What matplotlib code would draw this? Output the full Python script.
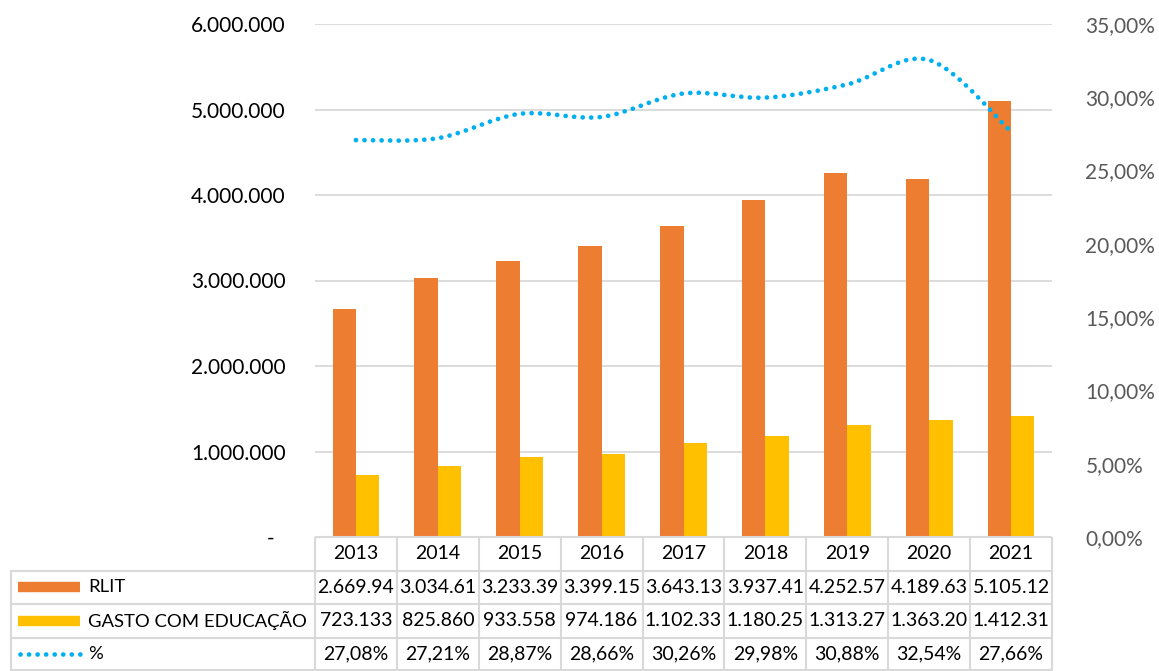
import matplotlib
matplotlib.use("Agg")
import matplotlib.pyplot as plt
from matplotlib.path import Path
from matplotlib.patches import PathPatch
from matplotlib.ticker import FuncFormatter, MultipleLocator
import numpy as np

years = ["2013", "2014", "2015", "2016", "2017", "2018", "2019", "2020", "2021"]
rlit = [2669940, 3034610, 3233390, 3399150, 3643130, 3937410, 4252570, 4189630, 5105120]
gasto = [723133, 825860, 933558, 974186, 1102330, 1180250, 1313270, 1363200, 1412310]
pct = [27.08, 27.21, 28.87, 28.66, 30.26, 29.98, 30.88, 32.54, 27.66]
series_names = ["RLIT", "GASTO COM EDUCAÇÃO", "%"]

ORANGE = "#ED7D31"
YELLOW = "#FFC000"
BLUE = "#00B0F0"
GRID = "#D9D9D9"
FONT = "Lato"

plt.rcParams['font.family'] = [FONT, 'DejaVu Sans']

W, H = 1159, 671
fig = plt.figure(figsize=(W / 100, H / 100), dpi=100)

pl, pr, pt, pb = 315, 1052, 24, 537
ax = fig.add_axes([pl / W, 1 - pb / H, (pr - pl) / W, (pb - pt) / H])
n = len(years)
x = np.arange(n)
bw = 0.285
ax.bar(x - bw / 2, rlit, width=bw, color=ORANGE, zorder=2)
ax.bar(x + bw / 2, gasto, width=bw, color=YELLOW, zorder=2)
ax.set_xlim(-0.5, n - 0.5)
ax.set_ylim(0, 6000000)
ax.yaxis.set_major_locator(MultipleLocator(1000000))


def lfmt(v, p):
    if abs(v) < 1:
        return "-  "
    return f"{int(round(v)):,}".replace(",", ".")


ax.yaxis.set_major_formatter(FuncFormatter(lfmt))
ax.tick_params(axis='y', length=0, pad=21, labelsize=15, labelcolor="#000000")
ax.set_xticks([])
ax.grid(axis='y', color=GRID, lw=1.3, zorder=0)
for s in ax.spines.values():
    s.set_visible(False)

ax2 = ax.twinx()
ax2.set_ylim(0, 35)
ax2.yaxis.set_major_locator(MultipleLocator(5))
ax2.yaxis.set_major_formatter(FuncFormatter(lambda v, p: f"{v:.2f}".replace(".", ",") + "%"))
ax2.tick_params(axis='y', length=0, pad=24, labelsize=15, labelcolor="#595959")
for s in ax2.spines.values():
    s.set_visible(False)

# smoothed line (Catmull-Rom style Bezier through the data points)
pts = np.column_stack([x, pct]).astype(float)
verts = [tuple(pts[0])]
codes = [Path.MOVETO]
for i in range(n - 1):
    p0 = pts[i - 1] if i > 0 else pts[i]
    p1 = pts[i]
    p2 = pts[i + 1]
    p3 = pts[i + 2] if i + 2 < n else pts[i + 1]
    c1 = p1 + (p2 - p0) / 6
    c2 = p2 - (p3 - p1) / 6
    verts += [tuple(c1), tuple(c2), tuple(p2)]
    codes += [Path.CURVE4] * 3
patch = PathPatch(Path(verts, codes), fill=False, edgecolor=BLUE, lw=3.4,
                  linestyle=(0, (0.01, 1.8)), capstyle='round', zorder=3)
ax2.add_patch(patch)

# data table
tl = 10
tb = 671
tax = fig.add_axes([tl / W, 1 - tb / H, (pr - tl) / W, (tb - pb) / H])
upp = n / (pr - pl)
xl = -0.5 - (pl - tl) * upp
tax.set_xlim(xl, n - 0.5)
tax.set_ylim(0, 4)
tax.axis('off')
lkw = dict(color=GRID, lw=1.5, solid_capstyle='butt', clip_on=False)
tax.plot([-0.5, n - 0.5], [4, 4], **lkw)
for yy in [3, 2, 1]:
    tax.plot([xl, n - 0.5], [yy, yy], **lkw)
tax.plot([xl, n - 0.5], [0.02, 0.02], **lkw)
for i in range(n + 1):
    tax.plot([i - 0.5, i - 0.5], [0, 4], **lkw)
tax.plot([xl + 0.01, xl + 0.01], [0, 3], **lkw)

fs = 14
for i, yv in enumerate(years):
    tax.text(i, 3.5, yv, ha='center', va='center', fontsize=fs, color="#000000")
rows = [
    [f"{v:,}".replace(",", ".")[:8] for v in rlit],
    [f"{v:,}".replace(",", ".")[:8] for v in gasto],
    [f"{v:.2f}".replace(".", ",") + "%" for v in pct],
]
for r, vals in enumerate(rows):
    yc = 2.5 - r
    for i, s in enumerate(vals):
        tax.text(i, yc, s, ha='center', va='center', fontsize=fs, color="#000000")
    tax.text(xl + 78 * upp, yc, series_names[r], ha='left', va='center', fontsize=13.3, color="#000000")

kx0, kx1 = xl + 8 * upp, xl + 70 * upp
tax.plot([kx0, kx1], [2.5, 2.5], color=ORANGE, lw=7.5, solid_capstyle='butt')
tax.plot([kx0, kx1], [1.5, 1.5], color=YELLOW, lw=7.5, solid_capstyle='butt')
tax.plot([kx0 + 2 * upp, kx1], [0.5, 0.5], color=BLUE, lw=3.4, linestyle=(0, (0.01, 1.8)),
         dash_capstyle='round')

fig.savefig("out.png", dpi=100)
